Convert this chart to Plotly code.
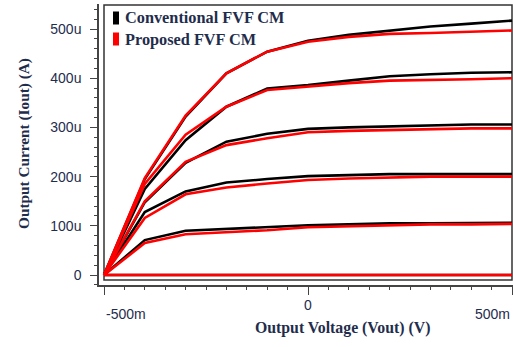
import plotly.graph_objects as go

# Sweep of output voltage (V)
vout = [-0.5, -0.4, -0.3, -0.2, -0.1, 0.0, 0.1, 0.2, 0.3, 0.4, 0.5]

# Output current in microamps, conventional FVF CM (black)
conv_0 = [0, 0, 0, 0, 0, 0, 0, 0, 0, 0, 0]
conv_1 = [0, 71, 90, 94, 97, 101, 103, 105, 105, 106, 106]
conv_2 = [0, 128, 170, 188, 195, 201, 203, 205, 205, 205, 205]
conv_3 = [0, 148, 228, 271, 287, 297, 300, 302, 305, 306, 306]
conv_4 = [0, 175, 274, 342, 379, 386, 395, 404, 408, 411, 412]
conv_5 = [0, 195, 322, 410, 454, 476, 488, 496, 505, 511, 517]

# Output current in microamps, proposed FVF CM (red)
prop_0 = [0, 0, 0, 0, 0, 0, 0, 0, 0, 0, 0]
prop_1 = [0, 65, 83, 87, 91, 97, 99, 101, 103, 103, 104]
prop_2 = [0, 116, 164, 178, 186, 193, 196, 198, 200, 200, 200]
prop_3 = [0, 150, 230, 264, 278, 290, 293, 295, 297, 298, 298]
prop_4 = [0, 185, 285, 342, 376, 383, 390, 395, 396, 398, 400]
prop_5 = [0, 197, 324, 410, 454, 474, 484, 490, 492, 494, 497]

conventional = [conv_0, conv_1, conv_2, conv_3, conv_4, conv_5]
proposed = [prop_0, prop_1, prop_2, prop_3, prop_4, prop_5]

y_tickvals = [0, 100, 200, 300, 400, 500]
y_ticktext = ["0", "100u", "200u", "300u", "400u", "500u"]
x_tickvals = [-0.5, 0.0, 0.5]
x_ticktext = ["-500m", "0", "500m"]

legend_names = ["Conventional FVF CM", "Proposed FVF CM"]
colors = ["#000000", "#ff0000"]

TXT = "#1f2d4d"
SERIF = "Liberation Serif, Times New Roman, serif"
SANS = "Liberation Sans, Arial, sans-serif"

fig = go.Figure()
for series in conventional:
    fig.add_trace(go.Scatter(x=vout, y=series, mode="lines",
                             line=dict(color=colors[0], width=2.6),
                             showlegend=False, hoverinfo="skip"))
for series in proposed:
    fig.add_trace(go.Scatter(x=vout, y=series, mode="lines",
                             line=dict(color=colors[1], width=2.6),
                             showlegend=False, hoverinfo="skip"))

W, H = 513, 347
L, R, T, B = 99, 0, 4, 62
pw, ph = W - L - R, H - T - B

def px_x(p):
    return (p - L) / pw

def px_y(p):
    return (H - B - p) / ph

fig.update_layout(
    width=W, height=H,
    margin=dict(l=L, r=R, t=T, b=B),
    paper_bgcolor="white", plot_bgcolor="white",
    showlegend=False,
    xaxis=dict(range=[-0.51225, 0.50245], showgrid=False, zeroline=False,
               showline=True, linecolor="#444444", linewidth=1.5,
               ticks="outside", ticklen=8, tickcolor="#444444", tickwidth=1.2,
               tickvals=x_tickvals, showticklabels=False,
               minor=dict(dtick=0.05, tick0=-0.5, ticks="outside", ticklen=3,
                          tickcolor="#444444", tickwidth=1.2)),
    yaxis=dict(range=[-20.3, 550.8], showgrid=False, zeroline=False,
               showline=True, linecolor="#444444", linewidth=1.5,
               ticks="outside", ticklen=7, tickcolor="#444444", tickwidth=1.2,
               tickvals=y_tickvals, ticktext=y_ticktext,
               tickfont=dict(family=SANS, size=14, color=TXT),
               ticklabelstandoff=6,
               minor=dict(dtick=20, tick0=0, ticks="outside", ticklen=3,
                          tickcolor="#444444", tickwidth=1.2)),
)

# plot frame
fig.add_shape(type="rect", xref="x", yref="paper",
              x0=-0.5, x1=0.5, y0=px_y(280), y1=px_y(5),
              line=dict(color="#333333", width=1.5), layer="below")

# x tick labels (staggered as in the original)
fig.add_annotation(x=x_tickvals[0], xref="x", y=px_y(314), yref="paper",
                   text=x_ticktext[0], showarrow=False, xanchor="left", yanchor="middle",
                   font=dict(family=SANS, size=14, color=TXT))
fig.add_annotation(x=x_tickvals[1], xref="x", y=px_y(305), yref="paper",
                   text=x_ticktext[1], showarrow=False, xanchor="center", yanchor="middle",
                   font=dict(family=SANS, size=14, color=TXT))
fig.add_annotation(x=x_tickvals[2], xref="x", y=px_y(314), yref="paper",
                   text=x_ticktext[2], showarrow=False, xanchor="right", yanchor="middle",
                   font=dict(family=SANS, size=14, color=TXT))

# axis titles
fig.add_annotation(x=px_x(342), xref="paper", y=px_y(328), yref="paper",
                   text="<b>Output Voltage (Vout) (V)</b>", showarrow=False,
                   xanchor="center", yanchor="middle",
                   font=dict(family=SERIF, size=15.8, color=TXT))
fig.add_annotation(x=px_x(24), xref="paper", y=px_y(144), yref="paper",
                   text="<b>Output Current (Iout) (A)</b>", showarrow=False,
                   textangle=-90, xanchor="center", yanchor="middle",
                   font=dict(family=SERIF, size=15.3, color=TXT))

# legend
for i, (name, col) in enumerate(zip(legend_names, colors)):
    yc = 18 + i * 21
    fig.add_shape(type="rect", xref="paper", yref="paper",
                  x0=px_x(113), x1=px_x(119), y0=px_y(yc + 6.5), y1=px_y(yc - 6.5),
                  line=dict(width=0), fillcolor=col)
    fig.add_annotation(x=px_x(123), xref="paper", y=px_y(yc), yref="paper",
                       text="<b>" + name + "</b>", showarrow=False,
                       xanchor="left", yanchor="middle",
                       font=dict(family=SERIF, size=16.3, color=TXT))

fig.write_html("out.html",
               config={"displayModeBar": False},
               post_script="document.body.style.margin='0';document.body.style.overflow='hidden';")
